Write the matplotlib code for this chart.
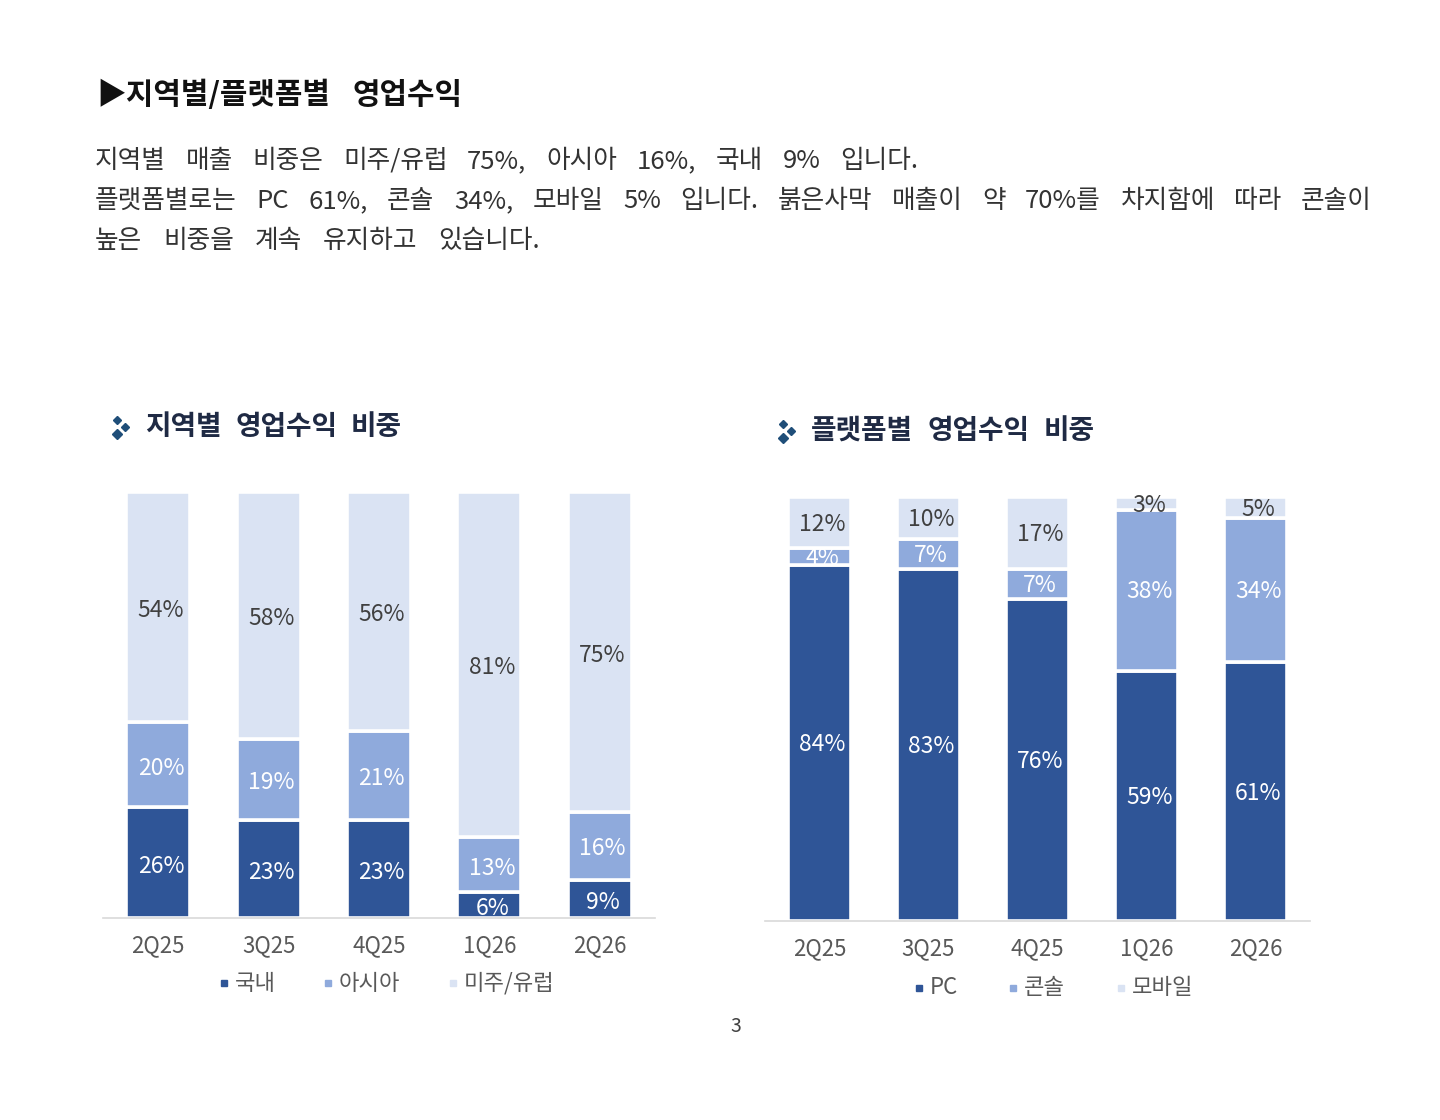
import matplotlib
matplotlib.use("Agg")
import matplotlib.pyplot as plt
import numpy as np

plt.rcParams['font.family'] = ['Noto Sans CJK KR', 'DejaVu Sans']

# ---- data ----
quarters = ["2Q25", "3Q25", "4Q25", "1Q26", "2Q26"]

region_names = ["국내", "아시아", "미주/유럽"]
region_domestic = [26, 23, 23, 6, 9]
region_asia = [20, 19, 21, 13, 16]
region_naeu = [54, 58, 56, 81, 75]

platform_names = ["PC", "콘솔", "모바일"]
platform_pc = [84, 83, 76, 59, 61]
platform_console = [4, 7, 7, 38, 34]
platform_mobile = [12, 10, 17, 3, 5]

title = "▶지역별/플랫폼별 영업수익"
para_lines = [
    "지역별 매출 비중은 미주/유럽 75%, 아시아 16%, 국내 9% 입니다.",
    "플랫폼별로는 PC 61%, 콘솔 34%, 모바일 5% 입니다. 붉은사막 매출이 약 70%를 차지함에 따라 콘솔이",
    "높은 비중을 계속 유지하고 있습니다.",
]
sub_left = "지역별 영업수익 비중"
sub_right = "플랫폼별 영업수익 비중"
page_no = "3"

# ---- style ----
C_DARK = "#2F5597"
C_MID = "#8FAADC"
C_LIGHT = "#DAE3F3"
colors = [C_DARK, C_MID, C_LIGHT]
txt_colors = ["white", "white", "#404040"]

W, H = 1440, 1120
fig = plt.figure(figsize=(W / 100, H / 100), dpi=100)
fig.patch.set_facecolor("white")

overlay = fig.add_axes([0, 0, 1, 1])
overlay.set_xlim(0, W)
overlay.set_ylim(H, 0)
overlay.axis("off")
renderer = fig.canvas.get_renderer()


def px_axes(x0, x1, ybase, ytop):
    return fig.add_axes([x0 / W, 1 - ybase / H, (x1 - x0) / W, (ybase - ytop) / H])


def stacked(ax, series, width, label_dy):
    x = np.arange(len(quarters))
    bottom = np.zeros(len(quarters))
    for i, vals in enumerate(series):
        vals = np.array(vals, dtype=float)
        ax.bar(x, vals, width, bottom=bottom, color=colors[i],
               edgecolor="white", linewidth=2.6, zorder=2)
        for xi, b, v in zip(x, bottom, vals):
            ax.text(xi + 0.025, b + v / 2 + label_dy, f"{int(v)}%", ha="center", va="center",
                    fontsize=16.5, color=txt_colors[i], zorder=3)
        bottom += vals
    ax.set_xlim(-0.5, len(quarters) - 0.5)
    ax.set_ylim(0, 100)
    for s in ["top", "right", "left"]:
        ax.spines[s].set_visible(False)
    ax.spines["bottom"].set_color("#D9D9D9")
    ax.spines["bottom"].set_linewidth(1.2)
    ax.set_yticks([])
    ax.set_xticks(x)
    ax.set_xticklabels(quarters, fontsize=16, color="#595959")
    ax.tick_params(axis="x", length=0, pad=12)
    ax.set_facecolor("none")


axL = px_axes(103, 655, 918, 492)
stacked(axL, [region_domestic, region_asia, region_naeu], 0.58, -0.8)

axR = px_axes(765, 1310, 921, 497)
stacked(axR, [platform_pc, platform_console, platform_mobile], 0.57, -0.4)


# ---- legends ----
def legend(names, xs, y):
    for i, (n, xx) in enumerate(zip(names, xs)):
        overlay.plot([xx], [y], marker="s", markersize=4, color=colors[i],
                     linestyle="none")
        overlay.text(xx + 11, y, n, ha="left", va="center", fontsize=16,
                     color="#595959")

legend(region_names, [224, 328, 453], 983)
legend(platform_names, [919, 1013, 1121], 988)


# ---- word-spaced text lines (spread to the reference line width) ----
def spaced_line(x0, x1, y, s, **kw):
    words = s.split(" ")
    objs = [overlay.text(0, y, w, ha="left", va="center", **kw) for w in words]
    widths = [o.get_window_extent(renderer).width for o in objs]
    gap = (x1 - x0 - sum(widths)) / max(len(words) - 1, 1)
    x = x0
    for o, wd in zip(objs, widths):
        o.set_x(x)
        x += wd + gap


spaced_line(96, 462, 95, title, fontsize=21.5, fontweight="bold", color="#111111")

para_ends = [918, 1372, 540]
for i, line in enumerate(para_lines):
    spaced_line(95, para_ends[i], 161 + 40 * i, line, fontsize=18.5, color="#333333")


def sub(x, y, s, xend):
    for dx, dy, ms in [(-5, -7, 4.5), (3, 0, 4.5), (-5, 7, 5.5)]:
        overlay.plot([x + dx], [y + dy], marker="D", markersize=ms,
                     color="#1F4E79", linestyle="none")
    spaced_line(x + 23, xend, y, s, fontsize=20, fontweight="bold", color="#1F2A44")

sub(122, 427, sub_left, 402)
sub(788, 431, sub_right, 1095)

overlay.text(736, 1027, page_no, ha="center", va="center", fontsize=14, color="#404040")

fig.savefig("out.png", dpi=100, facecolor="white")
